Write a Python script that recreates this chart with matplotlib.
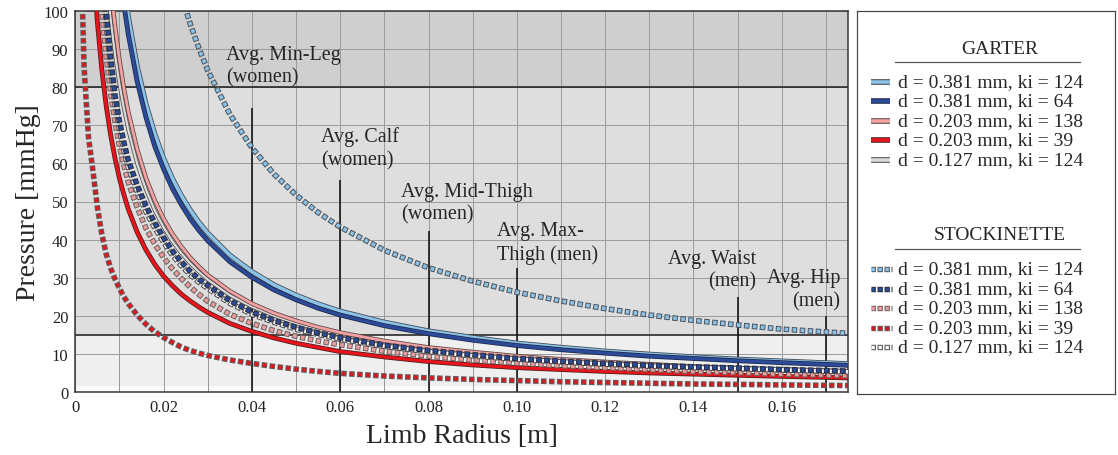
import numpy as np
import matplotlib
matplotlib.use("Agg")
import matplotlib.pyplot as plt
import matplotlib.patheffects as pe

plt.rcParams['font.family'] = ['Liberation Serif', 'DejaVu Serif']
plt.rcParams['lines.scale_dashes'] = False

nan = np.nan

# Limb radius [m]
radius = [0.0015, 0.002, 0.003, 0.004, 0.005, 0.006, 0.007, 0.008, 0.009,
          0.010, 0.011, 0.012, 0.014, 0.016, 0.018, 0.020,
          0.022, 0.024, 0.026, 0.028, 0.030,
          0.035, 0.040, 0.045, 0.050, 0.055, 0.060,
          0.070, 0.080, 0.090, 0.100,
          0.110, 0.120, 0.130, 0.140, 0.150, 0.160, 0.175]

# Garter pressure [mmHg]
garter_381_124 = [nan] * 9 + [116.1, 106.6, 98.5, 85.5, 75.6, 67.7, 61.3,
                              56.0, 51.6, 47.8, 44.5, 41.7,
                              35.9, 31.6, 28.1, 25.4, 23.1, 21.2,
                              18.3, 16.0, 14.3, 12.8,
                              11.7, 10.7, 9.9, 9.2, 8.6, 8.1, 7.4]
garter_381_64 = [nan] * 9 + [110.7, 101.6, 93.9, 81.6, 72.1, 64.5, 58.5,
                             53.4, 49.2, 45.5, 42.4, 39.7,
                             34.2, 30.1, 26.8, 24.2, 22.0, 20.2,
                             17.4, 15.3, 13.6, 12.2,
                             11.1, 10.2, 9.4, 8.8, 8.2, 7.7, 7.0]
garter_203_138 = [nan] * 6 + [120.3, 106.7, 96.0, 87.2, 79.8, 73.6,
                              63.8, 56.2, 50.3, 45.5,
                              41.5, 38.2, 35.3, 32.9, 30.7,
                              26.5, 23.2, 20.7, 18.7, 17.0, 15.6,
                              13.4, 11.7, 10.5, 9.4,
                              8.6, 7.9, 7.3, 6.7, 6.3, 5.9, 5.4]
garter_203_39 = [nan] * 2 + [137.0, 113.7, 97.1, 84.7, 75.1, 67.5, 61.3,
                             56.1, 51.8, 48.0, 42.0, 37.3, 33.5, 30.4,
                             27.9, 25.7, 23.9, 22.3, 20.9,
                             18.0, 15.9, 14.2, 12.8, 11.7, 10.6,
                             9.2, 8.0, 7.1, 6.4,
                             5.9, 5.4, 5.0, 4.7, 4.4, 4.1, 3.7]
garter_127_124 = [nan] * 6 + [109.4, 97.9, 88.5, 80.8, 74.4, 68.8,
                              59.9, 53.1, 47.6, 43.2,
                              39.5, 36.4, 33.8, 31.5, 29.5,
                              25.4, 22.4, 20.0, 18.0, 16.4, 15.1,
                              13.0, 11.4, 10.1, 9.1,
                              8.3, 7.6, 7.1, 6.6, 6.1, 5.7, 5.3]

# Stockinette pressure [mmHg]
stock_381_124 = [nan] * 16 + [113.2, 104.3, 96.7, 90.2, 84.4,
                              72.9, 64.1, 57.2, 51.7, 47.1, 43.3,
                              37.2, 32.6, 29.1, 26.2,
                              23.9, 21.9, 20.2, 18.8, 17.6, 16.5, 15.4]
stock_381_64 = [nan] * 5 + [116.7, 100.0, 87.5, 77.8,
                            71.0, 65.5, 60.8, 54.3, 48.8, 44.4, 40.5,
                            37.0, 34.2, 31.7, 29.6, 28.0,
                            24.0, 21.0, 18.8, 17.0, 15.5, 14.3,
                            12.3, 10.9, 9.8, 8.8,
                            8.1, 7.5, 7.0, 6.6, 6.3, 5.9, 5.5]
stock_203_138 = [nan] * 4 + [120.0, 100.0, 88.0, 78.5, 70.8,
                             64.5, 59.5, 55.0, 48.5, 43.0, 38.8, 35.3,
                             32.3, 29.8, 27.6, 25.6, 23.8,
                             20.4, 18.0, 16.1, 14.6, 13.4, 12.4,
                             10.7, 9.4, 8.4, 7.6,
                             6.9, 6.4, 5.9, 5.4, 5.1, 4.7, 4.3]
stock_203_39 = [106.0, 85.0, 66.7, 58.0, 48.5, 41.5, 36.2, 32.5, 29.6,
                27.2, 25.0, 23.2, 20.2, 17.8, 15.8, 14.3,
                13.0, 11.8, 10.9, 10.2, 9.6,
                8.4, 7.5, 6.7, 6.0, 5.4, 4.9,
                4.2, 3.7, 3.3, 3.0,
                2.7, 2.5, 2.3, 2.1, 2.0, 1.85, 1.7]
stock_127_124 = [nan] * 5 + [113.0, 97.0, 85.0, 75.5,
                             69.0, 63.5, 59.0, 52.7, 47.4, 43.1, 39.3,
                             35.9, 33.2, 30.8, 28.8, 27.2,
                             23.3, 20.4, 18.3, 16.5, 15.1, 13.9,
                             12.0, 10.6, 9.5, 8.6,
                             7.9, 7.3, 6.8, 6.4, 6.1, 5.8, 5.3]

series_labels = ["d = 0.381 mm, ki = 124", "d = 0.381 mm, ki = 64",
                 "d = 0.203 mm, ki = 138", "d = 0.203 mm, ki = 39",
                 "d = 0.127 mm, ki = 124"]

# Reference limb sizes: radius [m], line height [mmHg], caption
limb_radius = [0.04, 0.06, 0.08, 0.10, 0.15, 0.17]
limb_height = [74.5, 55.7, 42.2, 32.5, 25.0, 20.0]
limb_names = ["Avg. Min-Leg\n(women)", "Avg. Calf\n(women)",
              "Avg. Mid-Thigh\n(women)", "Avg. Max-\nThigh (men)",
              "Avg. Waist\n(men)", "Avg. Hip\n(men)"]

x_ticks = [0, 0.02, 0.04, 0.06, 0.08, 0.10, 0.12, 0.14, 0.16]
x_ticklabels = ["0", "0.02", "0.04", "0.06", "0.08", "0.10", "0.12", "0.14", "0.16"]
y_ticks = list(range(0, 101, 10))

colors = ["#8cc3e6", "#2c4a9a", "#f2a2a2", "#e8141c", "#dcdcdc"]
edges = ["#3d4650", "#1f2a48", "#5a4444", "#4a2020", "#4a4a4a"]
dot_colors = ["#8cc3e6", "#2c4a9a", "#eb9c9c", "#e3141c", "#f6f6f6"]
dot_edges = ["#4d5660", "#2a3040", "#6f6262", "#606060", "#505050"]

W, H, DPI = 1118, 456, 100
PX = 72.0 / DPI  # points per pixel


def solid(ax, x, y, color, edge, w, z, ew=1.0):
    ax.plot(x, y, color=color, lw=w * PX, solid_capstyle='butt',
            solid_joinstyle='round', zorder=z,
            path_effects=[pe.Stroke(linewidth=(w + 2 * ew) * PX, foreground=edge),
                          pe.Normal()])


def dotted(ax, x, y, color, edge, z, s=3.6, period=8.0):
    ax.plot(x, y, color=edge, lw=(s + 2) * PX,
            linestyle=(1 * PX, ((s + 2) * PX, (period - s - 2) * PX)),
            dash_capstyle='butt', zorder=z)
    ax.plot(x, y, color=color, lw=s * PX,
            linestyle=(0, (s * PX, (period - s) * PX)),
            dash_capstyle='butt', zorder=z + 0.05)


fig = plt.figure(figsize=(W / DPI, H / DPI), dpi=DPI)
fig.patch.set_facecolor('white')

ax = fig.add_axes([75.3 / W, 1 - 393 / H, 772.7 / W, 381 / H])
ax.set_xlim(0, 0.175)
ax.set_ylim(0, 100)

# pressure bands
ax.axhspan(80, 100, color="#cfcfcf", zorder=0, lw=0)
ax.axhspan(15, 80, color="#dedede", zorder=0, lw=0)
ax.axhspan(1.5, 15, color="#efefef", zorder=0, lw=0)
ax.axhspan(0, 1.5, color="#fbfbfb", zorder=0, lw=0)

ax.set_xticks(x_ticks)
ax.set_xticklabels(x_ticklabels)
ax.set_xticks(np.arange(0, 0.1751, 0.01), minor=True)
ax.set_yticks(y_ticks)
ax.grid(True, which='both', color="#9c9c9c", lw=1 * PX, zorder=1)
ax.set_axisbelow(True)
ax.tick_params(which='both', length=0, labelsize=12, colors="#222222", pad=5)

for sp in ax.spines.values():
    sp.set_color("#333333")
    sp.set_linewidth(1.5 * PX)

ax.axhline(80, color="#222222", lw=1.6 * PX, zorder=2)
ax.axhline(15, color="#222222", lw=1.6 * PX, zorder=2)

ax.vlines(limb_radius, 0, limb_height, color="#111111", lw=1.6 * PX, zorder=2)

text_pos = [(0.0341, 91.2, 'left'), (0.0556, 69.7, 'left'),
            (0.0737, 55.2, 'left'), (0.0954, 44.8, 'left'),
            (0.1543, 37.6, 'right'), (0.1733, 32.6, 'right')]
for (tx, ty, ha), name in zip(text_pos, limb_names):
    ax.text(tx, ty, name, ha=ha, va='top', fontsize=14.5, color="#262626",
            linespacing=1.28, zorder=3, multialignment=ha)

garter = [garter_381_124, garter_381_64, garter_203_138, garter_203_39, garter_127_124]
stock = [stock_381_124, stock_381_64, stock_203_138, stock_203_39, stock_127_124]
widths = [3.6, 3.2, 2.8, 3.2, 2.2]

solid_order = [4, 2, 3, 0, 1]
for k, i in enumerate(solid_order):
    solid(ax, radius, garter[i], colors[i], edges[i], widths[i], 4 + k, ew=0.8)

dot_order = [3, 2, 4, 1, 0]
for k, i in enumerate(dot_order):
    dotted(ax, radius, stock[i], dot_colors[i], dot_edges[i], 10 + k)

ax.set_xlabel("Limb Radius [m]", fontsize=20, color="#262626", labelpad=6)
ax.set_ylabel("Pressure [mmHg]", fontsize=20, color="#262626", labelpad=2)

# legend panel
lx0, ly0, lx1, ly1 = 857, 12, 1115, 395
lax = fig.add_axes([lx0 / W, 1 - ly1 / H, (lx1 - lx0) / W, (ly1 - ly0) / H])
lax.set_xlim(0, lx1 - lx0)
lax.set_ylim(ly1 - ly0, 0)
lax.set_xticks([])
lax.set_yticks([])
for sp in lax.spines.values():
    sp.set_color("#444444")
    sp.set_linewidth(1.2 * PX)


def legend_block(title, ty, rows_y, dotted_style):
    lax.text(143, ty, title, ha='center', va='center', fontsize=14, color="#262626")
    lax.plot([38, 223], [ty + 14, ty + 14], color="#555555", lw=1.2 * PX)
    for i, yy in enumerate(rows_y):
        if dotted_style:
            dotted(lax, [13.5, 35], [yy, yy], dot_colors[i], dot_edges[i], 3,
                   s=3.4, period=7.0)
        else:
            solid(lax, [14, 33], [yy, yy], colors[i], edges[i], 3.6, 3)
        lax.text(41, yy, series_labels[i], ha='left', va='center',
                 fontsize=14, color="#262626")


legend_block("GARTER", 37, [71, 90, 110, 129, 149], False)
legend_block("STOCKINETTE", 224, [258, 278, 297, 317, 336], True)

fig.savefig("out.png", dpi=DPI)
